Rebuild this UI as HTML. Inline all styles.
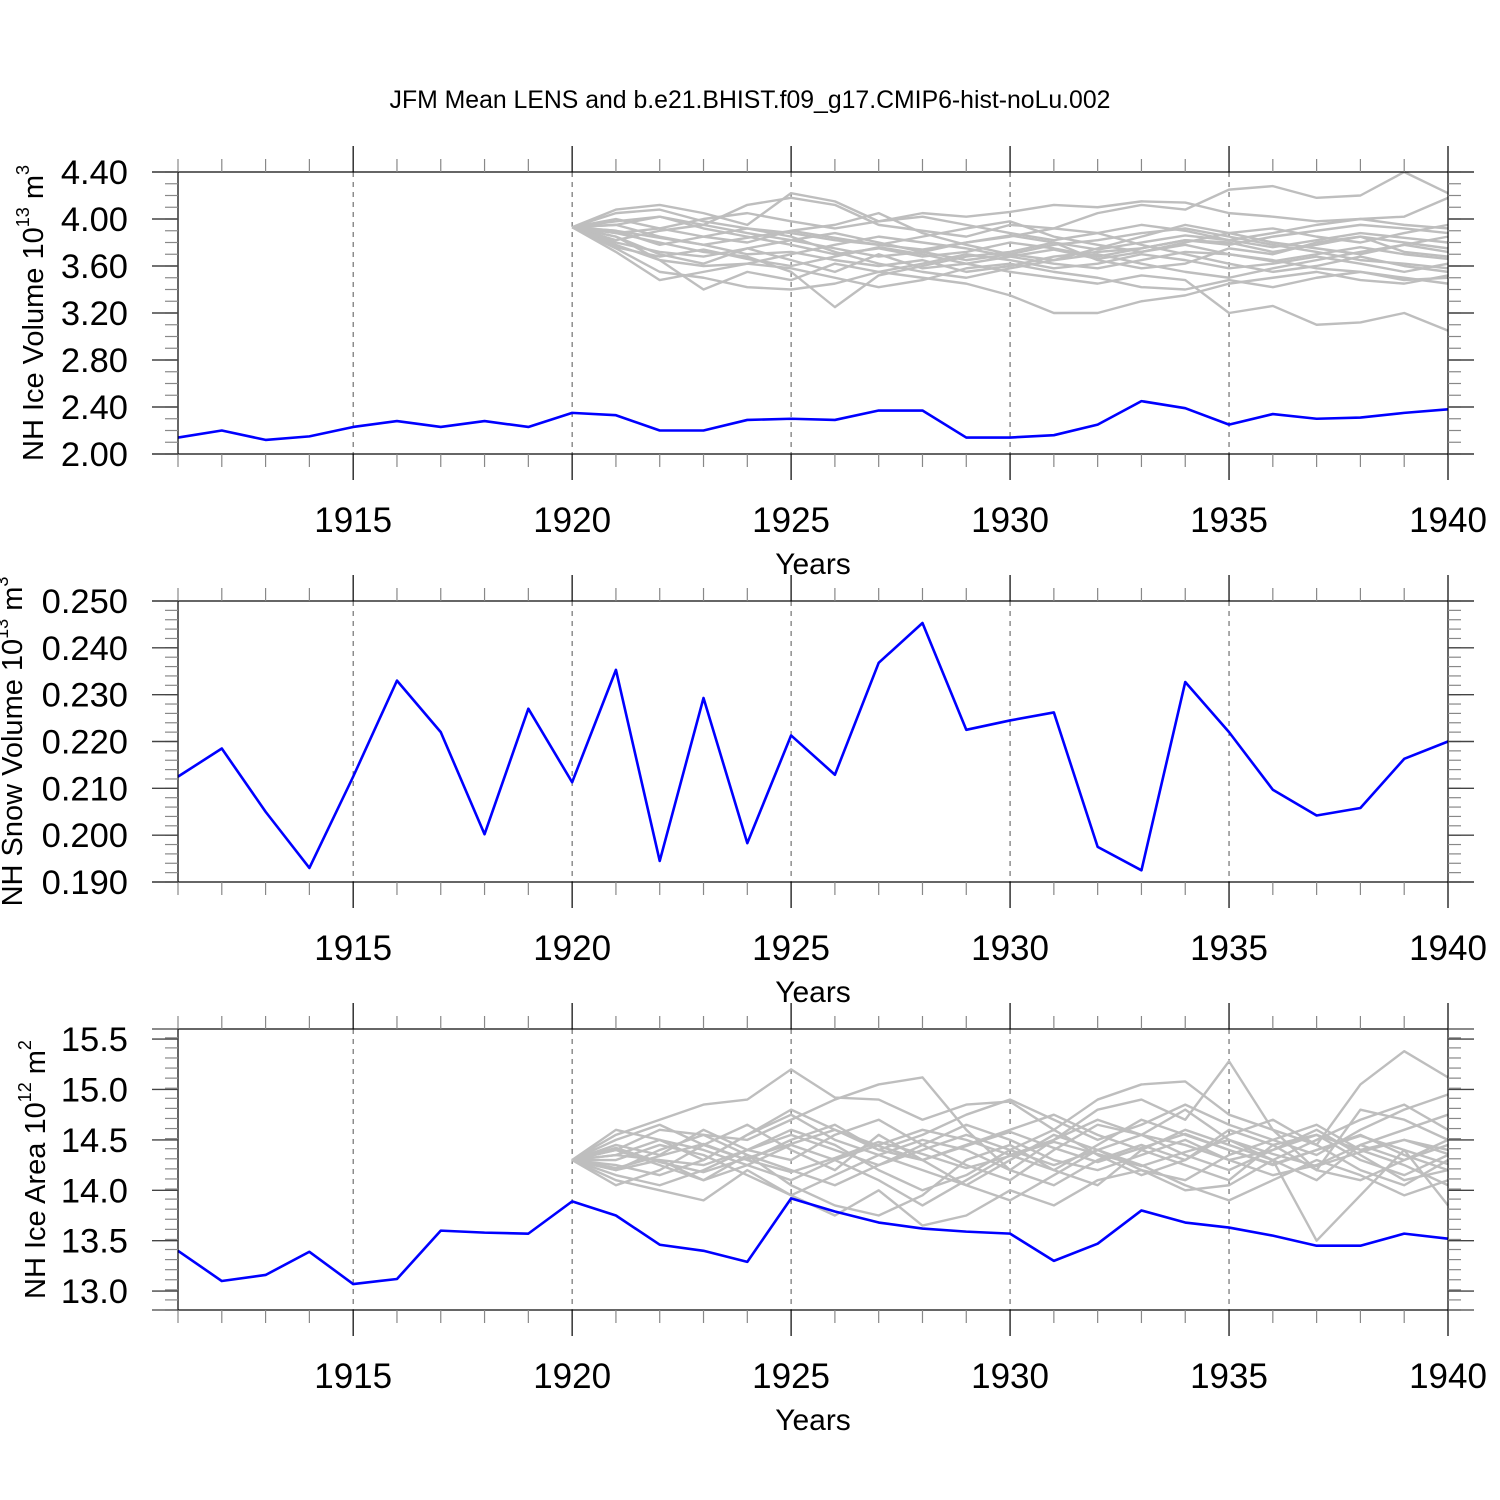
<!DOCTYPE html>
<html><head><meta charset="utf-8">
<style>
body{margin:0;background:#fff;}
svg{display:block;font-family:"Liberation Sans",sans-serif;}
</style></head>
<body>
<svg id="chart" width="1500" height="1500" xmlns="http://www.w3.org/2000/svg">
<rect width="1500" height="1500" fill="#fff"/>
<text x="750" y="108" font-size="24.8" text-anchor="middle">JFM Mean LENS and b.e21.BHIST.f09_g17.CMIP6-hist-noLu.002</text>
</svg>
<script>
const years = [];
for (let y = 1911; y <= 1940; y++) years.push(y);
const ensYears = [];
for (let y = 1920; y <= 1940; y++) ensYears.push(y);

const iceVolBlue = [2.14,2.20,2.12,2.15,2.23,2.28,2.23,2.28,2.23,2.35,2.33,2.20,2.20,2.29,2.30,2.29,2.37,2.37,2.14,2.14,2.16,2.25,2.45,2.39,2.25,2.34,2.30,2.31,2.35,2.38];
const snowVolBlue = [0.2125,0.2185,0.205,0.193,0.2125,0.233,0.222,0.2002,0.227,0.2113,0.2353,0.1945,0.2293,0.1983,0.2213,0.2129,0.2368,0.2453,0.2225,0.2245,0.2262,0.1975,0.1925,0.2327,0.2220,0.2097,0.2042,0.2058,0.2163,0.2200];
const iceAreaBlue = [13.40,13.10,13.16,13.39,13.07,13.12,13.60,13.58,13.57,13.89,13.75,13.46,13.40,13.29,13.92,13.79,13.68,13.62,13.59,13.57,13.30,13.47,13.80,13.68,13.63,13.55,13.45,13.45,13.57,13.52];

const iceVolEns = [
[3.93,4.08,4.12,4.05,3.95,4.22,4.15,3.98,4.05,4.02,4.06,4.12,4.10,4.15,4.14,4.05,4.02,3.98,4.00,4.02,4.18],
[3.93,3.85,3.70,3.62,3.75,3.65,3.55,3.70,3.58,3.62,3.55,3.50,3.45,3.52,3.48,3.20,3.26,3.10,3.12,3.20,3.05],
[3.93,3.98,4.02,3.95,4.12,4.18,4.12,3.95,3.90,3.85,3.95,3.92,4.05,4.12,4.08,4.25,4.28,4.18,4.20,4.40,4.22],
[3.93,3.75,3.55,3.50,3.42,3.40,3.45,3.55,3.50,3.45,3.35,3.20,3.20,3.30,3.35,3.45,3.50,3.55,3.48,3.45,3.52],
[3.93,3.88,3.80,3.72,3.68,3.55,3.25,3.52,3.60,3.68,3.72,3.80,3.65,3.58,3.62,3.75,3.70,3.80,3.85,3.72,3.68],
[3.93,4.00,3.92,3.85,3.80,3.90,3.95,4.05,3.88,3.78,3.70,3.65,3.75,3.85,3.95,3.88,3.80,3.75,3.70,3.78,3.85],
[3.93,3.82,3.90,3.95,3.88,3.82,3.75,3.68,3.72,3.80,3.85,3.92,3.88,3.78,3.70,3.62,3.55,3.60,3.68,3.60,3.55],
[3.93,3.95,3.85,3.78,3.70,3.72,3.65,3.60,3.65,3.55,3.60,3.68,3.72,3.75,3.82,3.78,3.85,3.90,3.95,3.92,3.88],
[3.93,3.78,3.65,3.60,3.62,3.70,3.78,3.85,3.80,3.75,3.68,3.62,3.58,3.65,3.72,3.70,3.65,3.58,3.55,3.50,3.45],
[3.93,4.05,4.08,3.98,3.92,3.88,3.82,3.78,3.85,3.92,3.98,3.85,3.78,3.72,3.80,3.88,3.92,3.85,3.80,3.88,3.95],
[3.93,3.90,3.78,3.85,3.92,3.85,3.72,3.62,3.55,3.50,3.58,3.65,3.70,3.62,3.55,3.50,3.58,3.65,3.72,3.78,3.72],
[3.93,3.72,3.48,3.55,3.62,3.58,3.50,3.42,3.48,3.58,3.62,3.55,3.50,3.42,3.40,3.48,3.42,3.50,3.55,3.48,3.50],
[3.93,3.88,3.92,4.00,4.05,3.98,3.92,3.98,4.02,3.95,3.88,3.82,3.88,3.95,3.90,3.82,3.88,3.95,4.00,3.95,3.92],
[3.93,3.80,3.72,3.68,3.75,3.82,3.88,3.80,3.72,3.65,3.70,3.78,3.82,3.88,3.92,3.85,3.78,3.72,3.65,3.62,3.58],
[3.93,3.95,4.02,3.92,3.85,3.78,3.70,3.75,3.68,3.72,3.80,3.75,3.68,3.75,3.82,3.80,3.72,3.78,3.85,3.80,3.75],
[3.93,3.85,3.65,3.40,3.55,3.48,3.62,3.55,3.62,3.70,3.65,3.58,3.62,3.70,3.65,3.58,3.62,3.68,3.62,3.55,3.62],
[3.93,3.76,3.68,3.74,3.66,3.60,3.68,3.76,3.70,3.62,3.68,3.74,3.66,3.72,3.78,3.70,3.64,3.70,3.76,3.70,3.66],
[3.93,3.90,3.84,3.78,3.84,3.90,3.84,3.78,3.74,3.80,3.86,3.80,3.74,3.80,3.86,3.82,3.76,3.82,3.88,3.84,3.80]
];
const iceAreaEns = [
[14.30,14.55,14.70,14.85,14.90,15.20,14.92,14.90,14.70,14.85,14.88,14.60,14.90,15.05,15.08,14.75,14.60,14.45,15.05,15.38,15.12],
[14.30,14.10,14.00,13.90,14.20,13.95,13.75,14.00,13.65,13.75,14.00,13.85,14.10,14.20,14.00,14.05,14.30,13.50,13.95,14.40,13.85],
[14.30,14.40,14.60,14.55,14.50,14.70,14.90,15.05,15.12,14.60,14.20,14.50,14.80,14.90,14.70,15.28,14.60,14.20,14.80,14.70,14.50],
[14.30,14.20,14.30,14.10,14.35,14.05,13.85,13.75,13.95,14.30,14.45,14.20,14.05,14.40,14.25,14.10,14.45,14.55,14.30,14.15,14.35],
[14.30,14.45,14.35,14.60,14.40,14.30,14.55,14.70,14.45,14.25,14.10,14.40,14.65,14.55,14.80,14.50,14.30,14.10,14.45,14.60,14.75],
[14.30,14.25,14.15,14.30,14.55,14.75,14.50,14.35,14.20,14.05,14.30,14.55,14.40,14.20,14.10,14.35,14.50,14.65,14.40,14.25,14.05],
[14.30,14.35,14.50,14.40,14.25,14.10,14.30,14.45,14.60,14.50,14.35,14.20,14.45,14.70,14.55,14.40,14.25,14.40,14.55,14.35,14.20],
[14.30,14.15,14.05,14.20,14.40,14.60,14.45,14.20,14.00,14.15,14.40,14.60,14.35,14.15,14.30,14.55,14.70,14.45,14.20,14.05,14.30],
[14.30,14.50,14.65,14.45,14.30,14.50,14.65,14.40,14.30,14.45,14.60,14.75,14.55,14.40,14.60,14.45,14.30,14.50,14.70,14.85,14.60],
[14.30,14.20,14.40,14.55,14.35,14.20,14.05,14.25,14.45,14.65,14.50,14.30,14.20,14.35,14.50,14.30,14.15,14.25,14.45,14.30,14.45],
[14.30,14.40,14.25,14.10,14.25,14.45,14.30,14.10,13.85,14.10,14.35,14.50,14.70,14.55,14.35,14.20,14.40,14.60,14.35,14.10,14.20],
[14.30,14.30,14.45,14.35,14.15,13.95,14.15,14.35,14.50,14.40,14.20,14.05,14.30,14.45,14.30,14.60,14.45,14.20,14.10,14.30,14.50],
[14.30,14.60,14.50,14.30,14.55,14.80,14.60,14.40,14.55,14.75,14.90,14.70,14.50,14.65,14.85,14.65,14.50,14.35,14.60,14.80,14.95],
[14.30,14.05,14.20,14.45,14.65,14.40,14.20,14.55,14.30,14.05,13.90,14.15,14.40,14.25,14.05,13.90,14.10,14.30,14.15,13.95,14.10],
[14.30,14.35,14.30,14.25,14.40,14.55,14.40,14.25,14.40,14.55,14.40,14.25,14.40,14.55,14.45,14.30,14.40,14.55,14.40,14.50,14.40],
[14.30,14.22,14.34,14.46,14.30,14.18,14.32,14.48,14.36,14.22,14.34,14.48,14.36,14.24,14.38,14.50,14.36,14.24,14.38,14.50,14.36],
[14.30,14.42,14.28,14.18,14.32,14.46,14.60,14.44,14.30,14.44,14.58,14.42,14.28,14.42,14.56,14.40,14.26,14.40,14.54,14.40,14.26]
];

const yTicks1 = [2.0,2.4,2.8,3.2,3.6,4.0,4.4];
const yTickLabels1 = ["2.00","2.40","2.80","3.20","3.60","4.00","4.40"];
const yTicks2 = [0.19,0.20,0.21,0.22,0.23,0.24,0.25];
const yTickLabels2 = ["0.190","0.200","0.210","0.220","0.230","0.240","0.250"];
const yTicks3 = [13.0,13.5,14.0,14.5,15.0,15.5];
const yTickLabels3 = ["13.0","13.5","14.0","14.5","15.0","15.5"];
const xTicks = [1915,1920,1925,1930,1935,1940];
const xTickLabels = ["1915","1920","1925","1930","1935","1940"];

const NS = "http://www.w3.org/2000/svg";
const svg = document.getElementById('chart');
const X0 = 178, X1 = 1448;
function xs(yr){ return X0 + (yr - 1911) * (X1 - X0) / 29; }
function mk(tag, attrs, parent){
  const e = document.createElementNS(NS, tag);
  for (const k in attrs) e.setAttribute(k, attrs[k]);
  (parent || svg).appendChild(e);
  return e;
}
function line(g, x1, y1, x2, y2, stroke, w, dash){
  const l = mk('line', {x1, y1, x2, y2, stroke, 'stroke-width': w}, g);
  if (dash) l.setAttribute('stroke-dasharray', dash);
  return l;
}

function panel(cfg){
  const g = mk('g', {});
  
  
  const ys = v => cfg.top + (cfg.vmax - v) * (cfg.bot - cfg.top) / (cfg.vmax - cfg.vmin);
  xTicks.slice(0, 5).forEach(t => {
    const l = line(g, xs(t), cfg.top, xs(t), cfg.bot, '#555', 1, '5,5');
    
    
  });
  if (cfg.ens) cfg.ens.forEach(m => {
    const pts = m.map((v, i) => xs(ensYears[i]) + ',' + ys(v)).join(' ');
    const p = mk('polyline', {points: pts, fill: 'none', stroke: '#bebebe', 'stroke-width': 2.4, 'stroke-linejoin': 'round'}, g);
    
    
  });
  const pts = cfg.blue.map((v, i) => xs(years[i]) + ',' + ys(v)).join(' ');
  const bl = mk('polyline', {points: pts, fill: 'none', stroke: '#0000ff', 'stroke-width': 2.6, 'stroke-linejoin': 'round'}, g);
  
  
  const bx = mk('rect', {x: X0, y: cfg.top, width: X1 - X0, height: cfg.bot - cfg.top, fill: 'none', stroke: '#000', 'stroke-width': 1.2}, g);
  
  
  for (let yr = 1911; yr <= 1940; yr++) {
    const major = yr % 5 === 0;
    const L = major ? 26 : 13;
    const c = major ? '#000' : '#888';
    line(g, xs(yr), cfg.top, xs(yr), cfg.top - L, c, 1.2);
    line(g, xs(yr), cfg.bot, xs(yr), cfg.bot + L, c, 1.2);
  }
  for (let v = cfg.vmin; v <= cfg.vmax + 1e-9; v += cfg.minor) {
    const y = ys(v);
    if (y < cfg.top - 0.5 || y > cfg.bot + 0.5) continue;
    line(g, X0, y, X0 - 13, y, '#888', 1.2);
    line(g, X1, y, X1 + 13, y, '#888', 1.2);
  }
  cfg.yt.forEach((v, i) => {
    const y = ys(v);
    line(g, X0, y, X0 - 26, y, '#444', 1.4);
    line(g, X1, y, X1 + 26, y, '#444', 1.4);
    const t = mk('text', {x: 128, y: y + 12, 'font-size': 34.5, 'text-anchor': 'end'}, g);
    t.textContent = cfg.ytl[i];
    
    
  });
  line(g, X0 - 26, cfg.top, X0, cfg.top, '#444', 1.2);
  line(g, X0 - 26, cfg.bot, X0, cfg.bot, '#444', 1.2);
  line(g, X1, cfg.top, X1 + 26, cfg.top, '#444', 1.2);
  line(g, X1, cfg.bot, X1 + 26, cfg.bot, '#444', 1.2);
  xTicks.forEach((t, i) => {
    const tx = mk('text', {x: xs(t), y: cfg.bot + 78, 'font-size': 35, 'text-anchor': 'middle'}, g);
    tx.textContent = xTickLabels[i];
    
    
  });
  const xt = mk('text', {x: 813, y: cfg.bot + 120, 'font-size': 30, 'text-anchor': 'middle'}, g);
  xt.textContent = 'Years';
  
  
  const yc = (cfg.top + cfg.bot) / 2;
  const ytl = mk('text', {x: 0, y: 0, 'font-size': 29, 'text-anchor': 'middle', transform: 'translate(' + cfg.tx + ',' + yc + ') rotate(-90)'}, g);
  ytl.innerHTML = cfg.ytitle;
  
  
}

panel({name: 'ice-volume-panel', top: 172, bot: 454, vmin: 2.0, vmax: 4.4, minor: 0.1, yt: yTicks1, ytl: yTickLabels1, blue: iceVolBlue, ens: iceVolEns, tx: 43,
  ytitle: 'NH Ice Volume 10<tspan font-size="18" dy="-14">13</tspan><tspan dy="14"> m</tspan><tspan font-size="18" dy="-14">3</tspan>'});
panel({name: 'snow-volume-panel', top: 601, bot: 882, vmin: 0.19, vmax: 0.25, minor: 0.002, yt: yTicks2, ytl: yTickLabels2, blue: snowVolBlue, ens: null, tx: 22,
  ytitle: 'NH Snow Volume 10<tspan font-size="18" dy="-14">13</tspan><tspan dy="14"> m</tspan><tspan font-size="18" dy="-14">3</tspan>'});
panel({name: 'ice-area-panel', top: 1029, bot: 1310, vmin: 12.8125, vmax: 15.6, minor: 0.1, yt: yTicks3, ytl: yTickLabels3, blue: iceAreaBlue, ens: iceAreaEns, tx: 45,
  ytitle: 'NH Ice Area 10<tspan font-size="18" dy="-14">12</tspan><tspan dy="14"> m</tspan><tspan font-size="18" dy="-14">2</tspan>'});
</script>
</body></html>
